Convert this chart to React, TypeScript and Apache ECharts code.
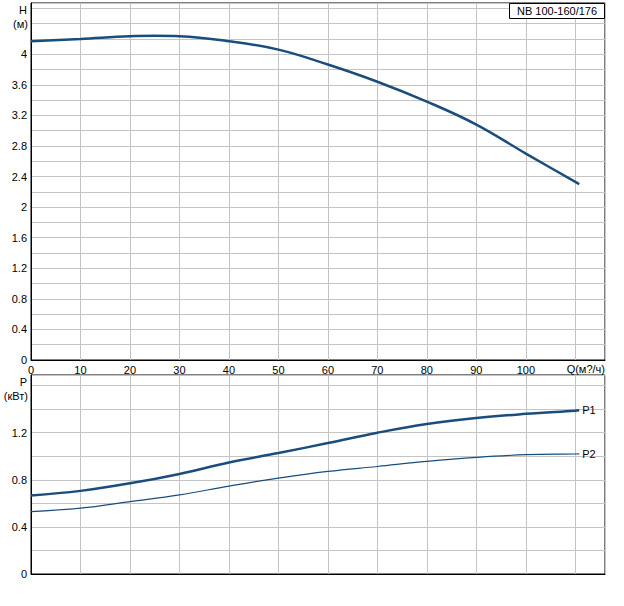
import React, { useEffect, useRef } from "react";
import * as echarts from "echarts";

// Flow (m³/h) and head (m), top chart
const headQ = [0, 10, 20, 25, 30, 40, 50, 60, 70, 80, 90, 100, 110, 110.8];
const headH = [4.17, 4.2, 4.235, 4.24, 4.235, 4.17, 4.06, 3.865, 3.64, 3.38, 3.08, 2.7, 2.33, 2.3];

// Power (kW), bottom chart
const powerQ = [0, 10, 20, 30, 40, 50, 60, 70, 80, 90, 100, 110, 110.8];
const powerP1 = [0.667, 0.706, 0.77, 0.85, 0.947, 1.027, 1.112, 1.2, 1.274, 1.325, 1.36, 1.387, 1.39];
const powerP2 = [0.53, 0.559, 0.615, 0.672, 0.746, 0.814, 0.871, 0.913, 0.956, 0.99, 1.013, 1.019, 1.02];

const xTicks = [0, 10, 20, 30, 40, 50, 60, 70, 80, 90, 100];
const headTicks = [0, 0.4, 0.8, 1.2, 1.6, 2, 2.4, 2.8, 3.2, 3.6, 4];
const powerTicks = [0, 0.4, 0.8, 1.2];

const title = "NB 100-160/176";
const xName = "Q(м?/ч)";

const FONT = "Liberation Sans, Arial, sans-serif";
const LINE = "#1a4d7c";
const GRIDC = "#c4c4c4";

function fmtTick(list: number[]) {
  return (v: number) => {
    const hit = list.find((t) => Math.abs(t - v) < 1e-6);
    return hit === undefined ? "" : String(hit);
  };
}

export default function App() {
  const ref = useRef<HTMLDivElement>(null);
  useEffect(() => {
    if (!ref.current) return;
    const chart = echarts.init(ref.current, undefined, { renderer: "svg" });
    const common = {
      axisTick: { show: false },
      splitLine: { show: true, lineStyle: { color: GRIDC, width: 1 } },
      axisLine: { show: true, lineStyle: { color: "#000", width: 1 } },
    };
    chart.setOption({
      animation: false,
      backgroundColor: "#fff",
      textStyle: { fontFamily: FONT },
      grid: [
        { left: 31, top: 3, width: 574, height: 357, show: true, borderColor: "#000", borderWidth: 1 },
        { left: 31, top: 375, width: 574, height: 199, show: true, borderColor: "#000", borderWidth: 1 },
      ],
      xAxis: [
        {
          type: "value", gridIndex: 0, min: 0, max: 116, interval: 10,
          ...common,
          axisLabel: {
            color: "#000", fontSize: 11, fontFamily: FONT, margin: 4,
            showMaxLabel: false,
            formatter: fmtTick(xTicks),
          },
        },
        {
          type: "value", gridIndex: 1, min: 0, max: 116, interval: 10,
          ...common,
          axisLabel: { show: false },
        },
      ],
      yAxis: [
        {
          type: "value", gridIndex: 0, min: 0, max: 4.67, interval: 0.2,
          ...common,
          axisLabel: {
            color: "#000", fontSize: 11, fontFamily: FONT, margin: 4,
            showMaxLabel: false,
            formatter: fmtTick(headTicks),
          },
        },
        {
          type: "value", gridIndex: 1, min: 0, max: 1.69, interval: 0.2,
          ...common,
          axisLabel: {
            color: "#000", fontSize: 11, fontFamily: FONT, margin: 4,
            showMaxLabel: false,
            formatter: fmtTick(powerTicks),
          },
        },
      ],
      series: [
        {
          type: "line", name: "H", xAxisIndex: 0, yAxisIndex: 0, smooth: 0.4, symbol: "none",
          lineStyle: { color: LINE, width: 2.5 },
          data: headQ.map((q, i) => [q, headH[i]]),
        },
        {
          type: "line", name: "P1", xAxisIndex: 1, yAxisIndex: 1, smooth: 0.4, symbol: "none",
          lineStyle: { color: LINE, width: 2.5 },
          endLabel: { show: true, formatter: "{a}", color: "#000", fontSize: 11, fontFamily: FONT, distance: 3 },
          data: powerQ.map((q, i) => [q, powerP1[i]]),
        },
        {
          type: "line", name: "P2", xAxisIndex: 1, yAxisIndex: 1, smooth: 0.4, symbol: "none",
          lineStyle: { color: LINE, width: 1.2 },
          endLabel: { show: true, formatter: "{a}", color: "#000", fontSize: 11, fontFamily: FONT, distance: 3 },
          data: powerQ.map((q, i) => [q, powerP2[i]]),
        },
      ],
      graphic: [
        { type: "rect", shape: { x: 509.5, y: 3.5, width: 95, height: 15 }, style: { fill: "#fff", stroke: "#000", lineWidth: 1 }, z: 100 },
        { type: "text", x: 557, y: 11, style: { text: title, fill: "#000", font: `11px ${FONT}`, textAlign: "center", textVerticalAlign: "middle" }, z: 101 },
        { type: "text", x: 27, y: 10, style: { text: "H", fill: "#000", font: `11px ${FONT}`, textAlign: "right", textVerticalAlign: "middle" } },
        { type: "text", x: 28, y: 24, style: { text: "(м)", fill: "#000", font: `11px ${FONT}`, textAlign: "right", textVerticalAlign: "middle" } },
        { type: "text", x: 27, y: 382, style: { text: "P", fill: "#000", font: `11px ${FONT}`, textAlign: "right", textVerticalAlign: "middle" } },
        { type: "text", x: 28, y: 396, style: { text: "(кВт)", fill: "#000", font: `11px ${FONT}`, textAlign: "right", textVerticalAlign: "middle" } },
        { type: "text", x: 605, y: 369, style: { text: xName, fill: "#000", font: `11px ${FONT}`, textAlign: "right", textVerticalAlign: "middle" } },
      ],
    });
    return () => chart.dispose();
  }, []);
  return (
    <div
      ref={ref}
      style={{ position: "fixed", left: 0, top: 0, width: 624, height: 606, background: "#fff" }}
    />
  );
}
